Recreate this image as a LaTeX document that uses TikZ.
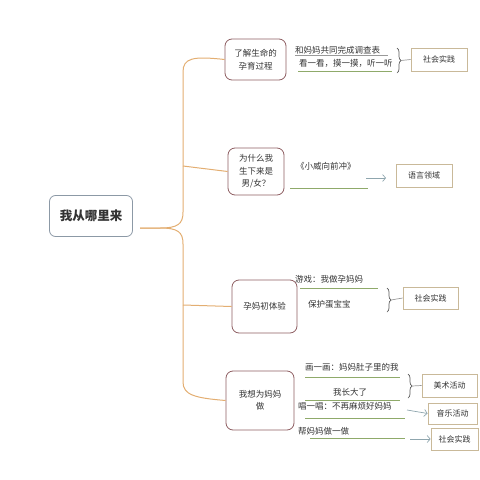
\documentclass[tikz,border=0pt]{standalone}
\usepackage{fontspec}
\setmainfont{Noto Sans CJK SC}
\usetikzlibrary{decorations.pathreplacing,arrows.meta}
\definecolor{trunkc}{HTML}{E3AE72}
\definecolor{branchc}{HTML}{8E5E62}
\definecolor{rootc}{HTML}{8C99A6}
\definecolor{tagc}{HTML}{C9B999}
\definecolor{greenl}{HTML}{8FAA6A}
\definecolor{arrc}{HTML}{8FA6AE}
\definecolor{txtc}{HTML}{333333}
\tikzset{
  rootbox/.style={draw=rootc,line width=0.8pt,rounded corners=6pt,fill=white,text=txtc,font=\fontsize{12.5}{14}\selectfont\bfseries},
  brbox/.style={draw=branchc,line width=0.8pt,rounded corners=7pt,fill=white,text=txtc,align=center,font=\fontsize{8.5}{12.5}\selectfont},
  tagbox/.style={draw=tagc,line width=0.8pt,fill=white,text=txtc,font=\fontsize{8}{10}\selectfont,inner sep=1pt},
  item/.style={text=txtc,font=\fontsize{8.5}{10}\selectfont,inner sep=0pt},
  trunk/.style={draw=trunkc,line width=1pt},
  uline/.style={draw=greenl,line width=0.8pt},
  gline/.style={draw=gray!80,line width=0.7pt},
  bracel/.style={draw=gray!70!black,line width=0.7pt,decorate,decoration={brace,amplitude=4pt}},
  arr/.style={draw=arrc,line width=0.7pt,-{Straight Barb[length=3pt,width=7pt]}}
}
\begin{document}
\begin{tikzpicture}[x=1pt,y=-1pt]
\useasboundingbox (0,0) rectangle (480,480);
% root and branch nodes
\node[rootbox,minimum width=83pt,minimum height=41pt] (root) at (91,216) {我从哪里来};
\node[brbox,minimum width=61pt,minimum height=41pt] (b1) at (255.5,59.5) {了解生命的\\孕育过程};
\node[brbox,minimum width=56pt,minimum height=47pt] (b2) at (256,171.5) {为什么我\\生下来是\\男/女？};
\node[brbox,minimum width=65pt,minimum height=53pt] (b3) at (264.5,306.5) {孕妈初体验};
\node[brbox,minimum width=68pt,minimum height=59pt] (b4) at (260,400.5) {我想为妈妈\\做};
% trunk
\coordinate (rt) at (140,228);
\coordinate (t2) at (183,166);
\coordinate (t3) at (183,305);
\draw[trunk] (b1.west) .. controls (193,56) and (183,58) .. (183,72) -- (183,212)
   .. controls (183,224) and (178,228) .. (160,228) -- (rt);
\draw[trunk] (rt) -- (160,228) .. controls (178,228) and (183,232) .. (183,244)
   -- (183,382) .. controls (183,395) and (195,398) .. (b4.west);
\draw[trunk] (t2) -- (b2.west);
\draw[trunk] (t3) -- (b3.west);
% tag boxes
\node[tagbox,minimum width=56pt,minimum height=23pt] (s1) at (439,59.5) {社会实践};
\node[tagbox,minimum width=56pt,minimum height=23pt] (y2) at (424,175.5) {语言领域};
\node[tagbox,minimum width=55pt,minimum height=22pt] (s3) at (430.5,298) {社会实践};
\node[tagbox,minimum width=55pt,minimum height=23pt] (m4) at (449.5,385.5) {美术活动};
\node[tagbox,minimum width=49pt,minimum height=21pt] (mu) at (452.5,413.5) {音乐活动};
\node[tagbox,minimum width=47pt,minimum height=22pt] (s4) at (454.5,439) {社会实践};
% branch 1 items
\node[item,anchor=west] (i11) at (295,50) {和妈妈共同完成调查表};
\draw[gline] (295,55) -- (388,55);
\node[item,anchor=west] (i12) at (299,63) {看一看，摸一摸，听一听};
\draw[uline] (298,71) -- (392,71);
\draw[bracel] (397,48) -- (397,73);
\coordinate (c1) at (401,60.5);
\draw[gline] (c1) -- (s1.west);
% branch 2 items
\node[item,anchor=west] (i21) at (296,166) {《小威向前冲》};
\draw[uline] (290,188) -- (368,188);
\coordinate (a2) at (366,178);
\draw[arr] (a2) -- (386,178);
% branch 3 items
\node[item,anchor=west] (i31) at (295,279) {游戏：我做孕妈妈};
\draw[uline] (300,288) -- (378,288);
\node[item,anchor=west] (i32) at (308,304) {保护蛋宝宝};
\draw[bracel] (387,288) -- (387,312);
\coordinate (c3) at (391,300);
\draw[gline] (c3) -- (s3.west);
% branch 4 items
\node[item,anchor=west] (i41) at (305,367) {画一画：妈妈肚子里的我};
\draw[uline] (305,377) -- (400,377);
\node[item,anchor=west] (i42) at (333,392) {我长大了};
\draw[uline] (305,400) -- (400,400);
\draw[bracel] (408,374) -- (408,398);
\coordinate (c4) at (412,386);
\draw[gline] (c4) -- (m4.west);
\node[item,anchor=west] (i43) at (298,406) {唱一唱：不再麻烦好妈妈};
\draw[uline] (305,418) -- (405,418);
\coordinate (a4) at (407,410);
\draw[arr] (a4) -- (mu.west);
\node[item,anchor=west] (i44) at (298,431) {帮妈妈做一做};
\draw[uline] (310,438) -- (405,438);
\coordinate (a5) at (410,439);
\draw[arr] (a5) -- (s4.west);
\end{tikzpicture}
\end{document}
